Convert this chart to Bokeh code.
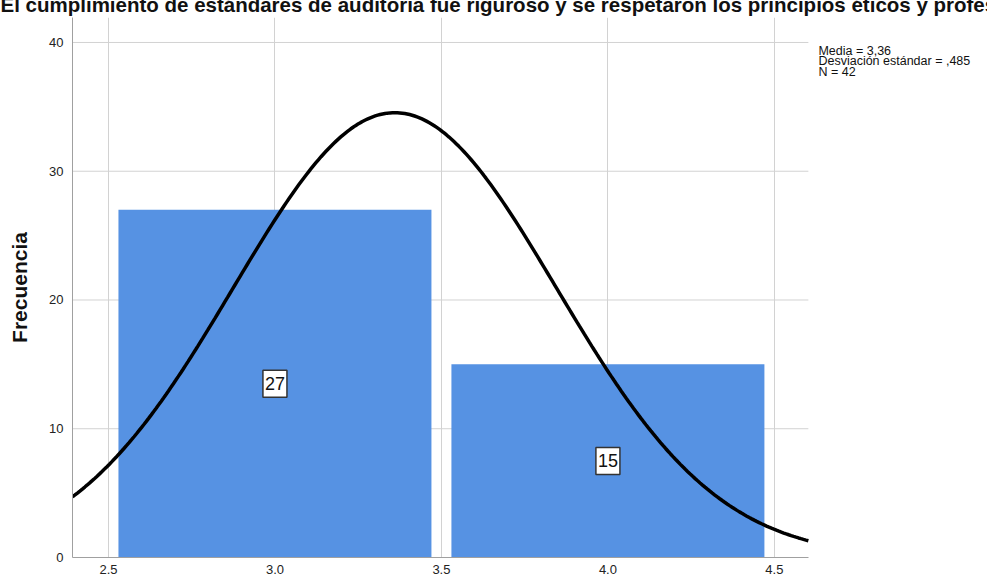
import numpy as np
from bokeh.plotting import figure
from bokeh.models import FixedTicker, Label, Range1d, Title
from bokeh.embed import file_html
from bokeh.resources import INLINE

# ---- data ----
bin_centers = [3.0, 4.0]
counts = [27, 15]
bar_width = 0.94
mean = 3.36
std = 0.485
n = 42
x_ticks = [2.5, 3.0, 3.5, 4.0, 4.5]
x_tick_labels = ["2.5", "3.0", "3.5", "4.0", "4.5"]
y_ticks = [0, 10, 20, 30, 40]
stats_lines = ["Media = 3,36", "Desviación estándar = ,485", "N = 42"]
title_text = ("El cumplimiento de estándares de auditoría fue riguroso y se "
              "respetaron los principios éticos y profesionales")
y_label = "Frecuencia"

FONT = "Liberation Sans"
X_START, X_PLOT_END, X_CANVAS_END = 2.392, 4.602, 5.14
Y_TOP = 41.94

p = figure(width=987, height=591, output_backend="svg", toolbar_location=None,
           x_range=Range1d(X_START, X_CANVAS_END), y_range=Range1d(0, Y_TOP),
           min_border_left=72, min_border_right=0, min_border_top=30,
           min_border_bottom=21, outline_line_color=None,
           styles={"margin-top": "-13px", "margin-left": "0px",
                   "margin-bottom": "-4px", "margin-right": "-4px"})
p.background_fill_color = "white"
p.border_fill_color = "white"

# grid: vertical lines from grid, horizontal lines limited to plot width
p.xgrid.ticker = FixedTicker(ticks=x_ticks)
p.xgrid.grid_line_color = "#d2d2d2"
p.ygrid.visible = False
gy = [t for t in y_ticks if t > 0]
p.segment(x0=[X_START] * len(gy), x1=[X_PLOT_END] * len(gy), y0=gy, y1=gy,
          line_color="#d2d2d2", line_width=1, level="underlay")

# bars
p.vbar(x=bin_centers, top=counts, width=bar_width, bottom=0,
       fill_color="#5692e3", line_color=None)

# normal curve from the stated statistics
xs = np.linspace(X_START, X_PLOT_END, 300)
ys = n * 1.0 * np.exp(-0.5 * ((xs - mean) / std) ** 2) / (std * np.sqrt(2 * np.pi))
p.line(xs, ys, line_color="black", line_width=3.5)

# count labels
for xc, c in zip(bin_centers, counts):
    p.add_layout(Label(x=xc, y=c / 2, text=str(c), text_align="center",
                       text_baseline="middle", text_font=FONT,
                       text_font_size="18px", text_color="#111111",
                       background_fill_color="white", border_line_color="#333333",
                       border_line_width=1.5,
                       padding=dict(left=2, right=2, top=7, bottom=7)))

# axes
p.xaxis.ticker = FixedTicker(ticks=x_ticks)
p.xaxis.major_label_overrides = {t: l for t, l in zip(x_ticks, x_tick_labels)}
p.xaxis.bounds = (X_START, X_PLOT_END)
p.yaxis.ticker = FixedTicker(ticks=y_ticks)
for ax in (p.xaxis, p.yaxis):
    ax.axis_line_color = "#a0a0a0"
    ax.axis_line_width = 1
    ax.major_tick_line_color = None
    ax.minor_tick_line_color = None
    ax.major_tick_out = 0
    ax.major_tick_in = 0
    ax.major_label_text_font = FONT
    ax.major_label_text_font_size = "13px"
    ax.major_label_text_color = "#222222"
p.xaxis.major_label_standoff = 7
p.yaxis.major_label_standoff = 9
p.yaxis.axis_label = y_label
p.yaxis.axis_label_text_font = FONT
p.yaxis.axis_label_text_font_style = "bold"
p.yaxis.axis_label_text_font_size = "21px"
p.yaxis.axis_label_text_color = "#111111"
p.yaxis.axis_label_standoff = 15

# stats text (inside the frame's right part)
stats_x = X_START + (818 - 72) / 333.0
stats_y = [39.33, 38.53, 37.73]
for s, yy in zip(stats_lines, stats_y):
    p.add_layout(Label(x=stats_x, y=yy, text=s,
                       text_align="left", text_baseline="alphabetic",
                       text_font=FONT, text_font_size="12.5px", text_color="#111111"))

# title
p.add_layout(Title(text=title_text, align="left", offset=-72, standoff=4,
                   text_font=FONT, text_font_style="bold",
                   text_font_size="20.5px", text_color="#111111"), "above")

open("out.html", "w").write(file_html(p, INLINE))
